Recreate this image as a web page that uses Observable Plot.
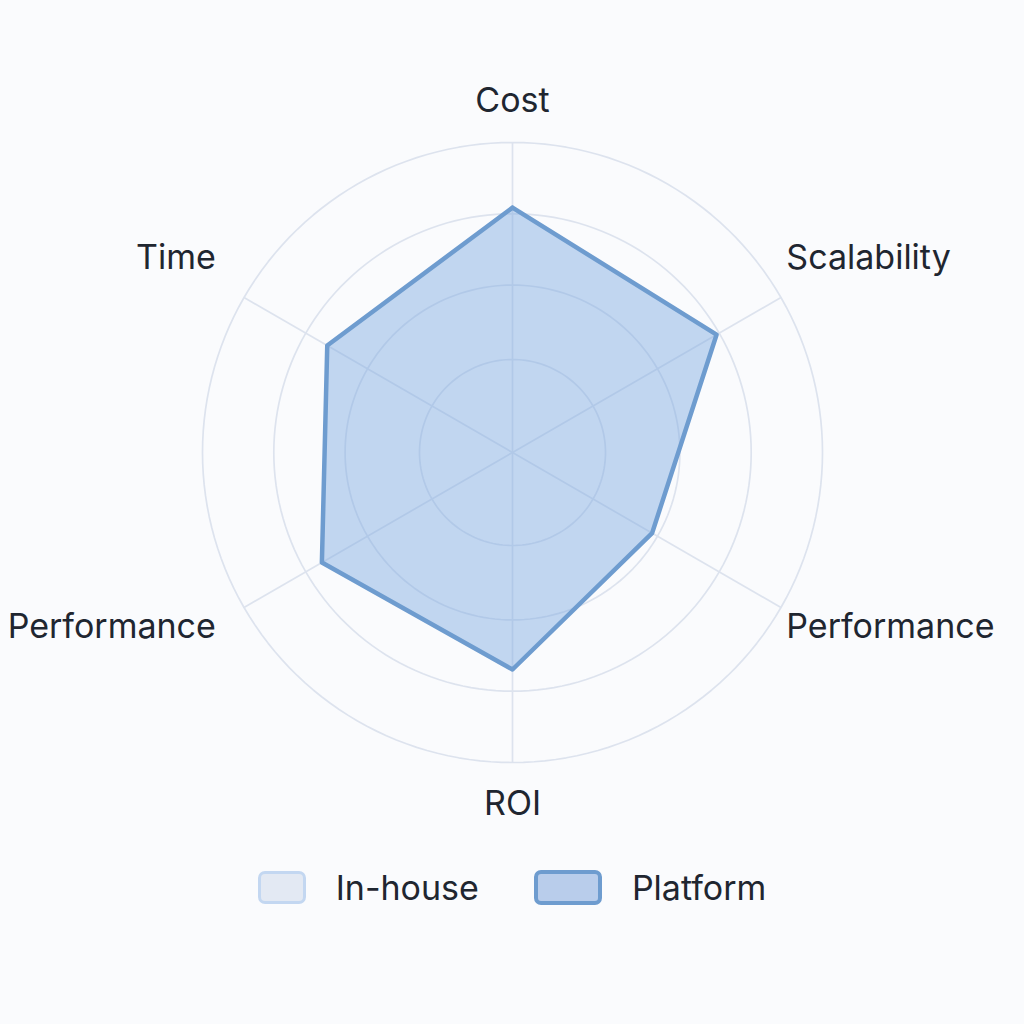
<!DOCTYPE html>
<html>
<head>
<meta charset="utf-8">
<script src="https://cdn.jsdelivr.net/npm/d3@7"></script>
<script src="https://cdn.jsdelivr.net/npm/@observablehq/plot@0.6"></script>
<style>
  html, body { margin: 0; padding: 0; background: #fafbfd; }
  body { width: 1024px; height: 1024px; font-family: Inter, "Noto Sans", sans-serif; color: #1f2630; }
  #chart svg { display: block; background: transparent; }
  .legend { display: flex; justify-content: center; align-items: center; gap: 0; margin-top: 7px; font-size: 34px; }
  .item { display: flex; align-items: center; }
  .sw { height: 27px; border-radius: 7px; box-sizing: content-box; }
  .lab { margin-left: 30px; }
</style>
</head>
<body>
<div id="chart"></div>
<div class="legend" id="legend"></div>
<script>
// ---- data ----
const categories = ["Cost", "Scalability", "Performance", "ROI", "Performance", "Time"];
const platformValues = [79, 76, 52, 70, 71, 69];
const ringLevels = [30, 54, 77, 100];
const maxValue = 100;
const seriesNames = ["In-house", "Platform"];

// ---- layout ----
const W = 1024, H = 860, R = 310, CX = 512, CY = 452;
const n = categories.length;
const ang = i => i * 2 * Math.PI / n;

const axes = categories.map((name, i) => ({
  i, name,
  x: Math.sin(ang(i)), y: Math.cos(ang(i))
}));

const rings = [];
for (const lv of ringLevels) {
  for (let k = 0; k <= 180; k++) {
    const t = k / 180 * 2 * Math.PI;
    rings.push({level: lv, x: lv / maxValue * Math.sin(t), y: lv / maxValue * Math.cos(t)});
  }
}

const poly = platformValues.map((v, i) => ({i, x: v / maxValue * Math.sin(ang(i)), y: v / maxValue * Math.cos(ang(i))}));
poly.push(poly[0]);

const labels = axes.map(a => {
  const side = Math.abs(a.x) > 0.1;
  const anchor = !side ? "middle" : (a.x > 0 ? "start" : "end");
  return {
    name: a.name,
    x: side ? (anchor === "start" ? 1.02 : 1.105) * a.x : 0,
    y: (side ? 1.19 : 1.135) * a.y,
    anchor
  };
});

const textStyle = {x: "x", y: "y", text: "name", fontSize: 34, fill: "#1f2630"};

const chart = Plot.plot({
  width: W, height: H, margin: 0,
  x: {domain: [-CX / R, (W - CX) / R], axis: null},
  y: {domain: [-(H - CY) / R, CY / R], axis: null},
  style: {background: "transparent", fontFamily: "Inter, 'Noto Sans', sans-serif"},
  marks: [
    Plot.line(rings, {x: "x", y: "y", z: "level", stroke: "#dde3ee", strokeWidth: 1.7}),
    Plot.link(axes, {x1: 0, y1: 0, x2: "x", y2: "y", stroke: "#dde3ee", strokeWidth: 1.7}),
    Plot.line(poly, {x: "x", y: "y", fill: "#7fa9e0", fillOpacity: 0.46, stroke: "none"}),
    Plot.line(poly, {x: "x", y: "y", stroke: "#6e9ccf", strokeWidth: 4.5, strokeLinejoin: "round"}),
    Plot.text(labels.filter(d => d.anchor === "middle"), {...textStyle, textAnchor: "middle"}),
    Plot.text(labels.filter(d => d.anchor === "start"), {...textStyle, textAnchor: "start", dy: -10}),
    Plot.text(labels.filter(d => d.anchor === "end"), {...textStyle, textAnchor: "end", dy: -10})
  ]
});
document.getElementById("chart").appendChild(chart);

// ---- legend ----
const swatchStyles = [
  {w: 42, fill: "#e3e9f3", border: "3px solid #c3d7f1"},
  {w: 60, fill: "#b9cdeb", border: "4px solid #6e9ccf"}
];
const leg = document.getElementById("legend");
seriesNames.forEach((s, i) => {
  const it = document.createElement("div");
  it.className = "item";
  if (i > 0) it.style.marginLeft = "55px";
  const sw = document.createElement("div");
  sw.className = "sw";
  sw.style.width = swatchStyles[i].w + "px";
  sw.style.background = swatchStyles[i].fill;
  sw.style.border = swatchStyles[i].border;
  const lb = document.createElement("span");
  lb.className = "lab";
  lb.textContent = s;
  it.appendChild(sw); it.appendChild(lb);
  leg.appendChild(it);
});
</script>
</body>
</html>
